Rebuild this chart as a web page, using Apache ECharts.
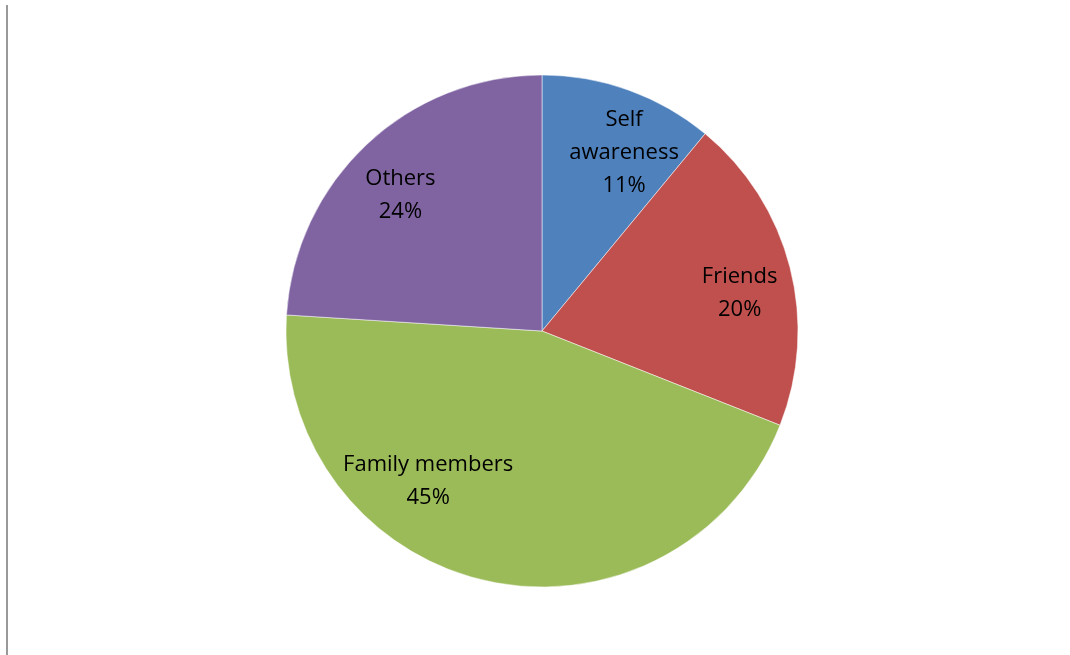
<!DOCTYPE html>
<html>
<head>
<meta charset="utf-8">
<script src="https://cdn.jsdelivr.net/npm/echarts@6/dist/echarts.min.js"></script>
<style>
  html, body { margin: 0; padding: 0; background: #fff; }
  #main { width: 1070px; height: 655px; }
</style>
</head>
<body>
<div id="main"></div>
<script>
// 数据
var categories = ['Self\nawareness', 'Friends', 'Family members', 'Others'];
var values = [11, 20, 45, 24];
var colors = ['#4F81BD', '#C0504D', '#9BBB59', '#8064A2'];

var pieData = categories.map(function (name, i) {
  return { name: name, value: values[i], itemStyle: { color: colors[i] } };
});

var chart = echarts.init(document.getElementById('main'), null, { renderer: 'canvas' });

var option = {
  animation: false,
  graphic: [{
    type: 'line',
    shape: { x1: 7, y1: 5, x2: 7, y2: 655 },
    style: { stroke: '#999', lineWidth: 2 }
  }],
  series: [
    {
      // 饼图本体
      type: 'pie',
      center: [542, 331],
      radius: [0, 256],
      startAngle: 90,
      clockwise: true,
      silent: true,
      label: { show: false },
      labelLine: { show: false },
      itemStyle: { borderColor: '#fff', borderWidth: 0.5 },
      data: pieData
    },
    {
      // 透明环，仅用于放置标签
      type: 'pie',
      center: [542, 331],
      radius: [140, 256],
      startAngle: 90,
      clockwise: true,
      silent: true,
      itemStyle: { color: 'transparent' },
      label: {
        show: true,
        position: 'inside',
        color: '#000',
        fontFamily: 'Open Sans',
        fontSize: 22,
        lineHeight: 33,
        formatter: function (p) { return p.name + '\n' + p.value + '%'; }
      },
      labelLine: { show: false },
      labelLayout: function (p) {
        // Excel 最佳位置的偏移
        var offsets = [[14, 11], [3, 12], [-70, -46], [-4, 11]];
        var o = offsets[p.dataIndex];
        return { dx: o[0], dy: o[1] };
      },
      data: categories.map(function (name, i) { return { name: name, value: values[i] }; })
    }
  ]
};

chart.setOption(option);
</script>
</body>
</html>
